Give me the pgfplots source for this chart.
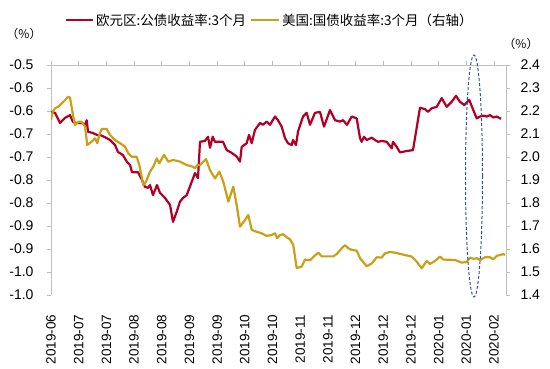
\documentclass[border=0pt]{standalone}
\usepackage{pgfplots}
\usepackage{pgfplotstable}
\pgfplotsset{compat=1.18}
\usepackage{fontspec}
\setmainfont{Liberation Sans}
\newfontfamily\cjk{Noto Sans CJK SC}
\definecolor{eured}{RGB}{176,0,38}
\definecolor{usgold}{RGB}{201,160,24}
\definecolor{axgray}{RGB}{191,191,191}
\definecolor{ellblue}{RGB}{47,85,151}

% x: position along the time axis (0 = 2019-06 start, 455 = right edge)
\pgfplotstableread{
x y
0 -0.602
4 -0.604
9 -0.626
14 -0.615
19 -0.609
22 -0.624
25.7 -0.626
30.7 -0.626
34 -0.630
35.7 -0.620
37 -0.645
42 -0.648
46 -0.652
49 -0.652
54 -0.657
59 -0.663
64 -0.674
67 -0.689
72 -0.696
76 -0.711
79 -0.717
81 -0.733
84 -0.733
87 -0.733
91 -0.750
94 -0.765
97 -0.767
99 -0.761
102 -0.783
106 -0.761
109 -0.778
114 -0.789
119 -0.804
122 -0.841
125.7 -0.819
129 -0.797
132 -0.789
135.7 -0.783
140.7 -0.754
144 -0.735
147 -0.746
149 -0.667
154 -0.665
157 -0.656
159 -0.680
161.7 -0.656
164 -0.667
167 -0.667
172 -0.667
175.7 -0.685
180.7 -0.691
185.7 -0.699
189 -0.710
190.7 -0.678
195.7 -0.670
198 -0.652
200.7 -0.670
204 -0.641
209 -0.626
212 -0.630
215.7 -0.623
219 -0.630
224 -0.612
227 -0.620
230.7 -0.634
234 -0.659
237 -0.670
240.7 -0.674
242 -0.663
245 -0.674
247 -0.645
252 -0.612
255.7 -0.604
259 -0.630
264 -0.604
269 -0.602
273 -0.634
279 -0.598
284 -0.620
289 -0.623
292 -0.620
296 -0.630
300.7 -0.612
305.7 -0.616
309 -0.659
310.7 -0.667
313 -0.656
315.7 -0.663
320.7 -0.658
324 -0.663
327 -0.667
330.7 -0.665
335.7 -0.667
340.7 -0.681
342 -0.667
345.7 -0.678
349 -0.690
355.7 -0.687
362 -0.685
369 -0.593
374 -0.596
377 -0.602
380.7 -0.594
385.7 -0.591
390.7 -0.572
395.7 -0.591
400.7 -0.580
405 -0.567
409 -0.580
413.3 -0.587
418.3 -0.576
422.3 -0.598
425.7 -0.616
429 -0.612
432.3 -0.610
435.7 -0.612
439 -0.609
442.3 -0.614
445.7 -0.612
450 -0.617
}\eurodata

\pgfplotstableread{
x y
0 2.161
1.7 2.197
4 2.212
7.3 2.219
12.3 2.240
17.3 2.262
19 2.258
22.3 2.175
24 2.139
27.3 2.153
30.7 2.153
34 2.132
36.3 2.052
40.7 2.067
44 2.081
46.3 2.060
48.3 2.096
50.7 2.122
55.7 2.122
59 2.096
64 2.074
69 2.060
74 2.045
77.3 2.016
80.7 2.001
85.7 2.001
88.3 1.965
92.3 1.878
95 1.893
99 1.936
102.3 1.958
105.7 1.994
108.3 1.973
113 2.009
117.3 1.980
122.3 1.987
129 1.980
135.7 1.965
141.7 1.958
144 1.951
146.3 1.965
149 1.965
155 1.991
159 1.943
164 1.907
168.3 1.936
172.3 1.893
177.3 1.806
182.3 1.871
185.7 1.791
189 1.697
194 1.726
197.3 1.748
200.7 1.683
205.7 1.675
210.7 1.668
215.7 1.657
220.7 1.661
224 1.668
226.3 1.647
229 1.661
232.3 1.664
235.7 1.651
239 1.642
242.3 1.617
244 1.567
245.7 1.517
250.7 1.524
254 1.554
259 1.551
264 1.572
267.3 1.584
270.7 1.568
282.3 1.568
285.7 1.578
290.7 1.603
294 1.617
297.3 1.603
300.7 1.596
305.7 1.593
309 1.560
315.7 1.525
320.7 1.537
325.7 1.564
330.7 1.563
334 1.581
339 1.587
344 1.584
350.7 1.577
355.7 1.572
360.7 1.567
365.7 1.545
370.7 1.516
375.7 1.548
379 1.535
384 1.548
389 1.567
392.3 1.554
399 1.553
404 1.552
410.7 1.541
415.7 1.543
419 1.563
422.3 1.557
425.7 1.560
429 1.552
434 1.564
439 1.564
442.3 1.555
445.7 1.570
449 1.574
452.3 1.578
454 1.574
}\usdata

\begin{document}
\begin{tikzpicture}[x=1pt,y=1pt]
\path[use as bounding box] (0,0) rectangle (550,369);
\pgfplotsset{
  every axis/.append style={
    at={(51pt,74pt)}, anchor=south west, scale only axis,
    width=455pt, height=230pt,
    xmin=0, xmax=455,
    xtick={0,27.69,55.38,83.06,110.75,138.44,166.13,193.81,221.5,249.19,276.88,304.56,332.25,359.94,387.63,415.31,443},
    tick align=outside, major tick length=4pt,
    every tick/.style={axgray, line width=0.75pt},
    axis line style={axgray, line width=0.75pt},
    tick label style={font=\fontsize{14}{16}\selectfont, text=black},
  }}
\begin{axis}[
  axis y line*=left, axis x line*=bottom,
  x axis line style={draw=none},
  x tick style={draw=none},
  ymin=-1, ymax=-0.5,
  ytick={-1,-0.95,-0.9,-0.85,-0.8,-0.75,-0.7,-0.65,-0.6,-0.55,-0.5},
  yticklabels={-1.0,-1.0,-0.9,-0.9,-0.8,-0.8,-0.7,-0.7,-0.6,-0.6,-0.5},
  yticklabel shift=10pt,
  xticklabels={2019-06,2019-07,2019-07,2019-08,2019-08,2019-09,2019-09,2019-10,2019-10,2019-11,2019-11,2019-12,2019-12,2019-12,2020-01,2020-01,2020-02},
  xticklabel style={rotate=90, anchor=east, font=\fontsize{13.5}{15}\selectfont},
  xticklabel shift=12pt,
]
\addplot[eured, line width=2.2pt, line join=round] table {\eurodata};
\end{axis}
\begin{axis}[
  axis y line*=right, axis x line*=top,
  ymin=1.4, ymax=2.4,
  ytick={1.4,1.5,1.6,1.7,1.8,1.9,2.0,2.1,2.2,2.3,2.4},
  yticklabels={1.4,1.5,1.6,1.7,1.8,1.9,2.0,2.1,2.2,2.3,2.4},
  yticklabel shift=7pt,
  xticklabels={},
]
\addplot[usgold, line width=2.2pt, line join=round] table {\usdata};
\end{axis}
\draw[ellblue, line width=1pt, dash pattern=on 3pt off 2pt] (474,193) ellipse [x radius=8.5, y radius=121];
% legend
\draw[eured, line width=2.2pt] (66,349) -- (93,349);
\node[anchor=west, inner sep=0pt, font=\fontsize{13.5}{15}\selectfont\cjk] at (96,349) {欧元区:公债收益率:3个月};
\draw[usgold, line width=2.2pt] (251,349) -- (279,349);
\node[anchor=west, inner sep=0pt, font=\fontsize{13.5}{15}\selectfont\cjk] at (282,349) {美国:国债收益率:3个月（右轴）};
\node[inner sep=0pt, font=\fontsize{12}{14}\selectfont\cjk] at (24,335) {（\%）};
\node[inner sep=0pt, font=\fontsize{12}{14}\selectfont\cjk] at (521,325) {（\%）};
\end{tikzpicture}
\end{document}
